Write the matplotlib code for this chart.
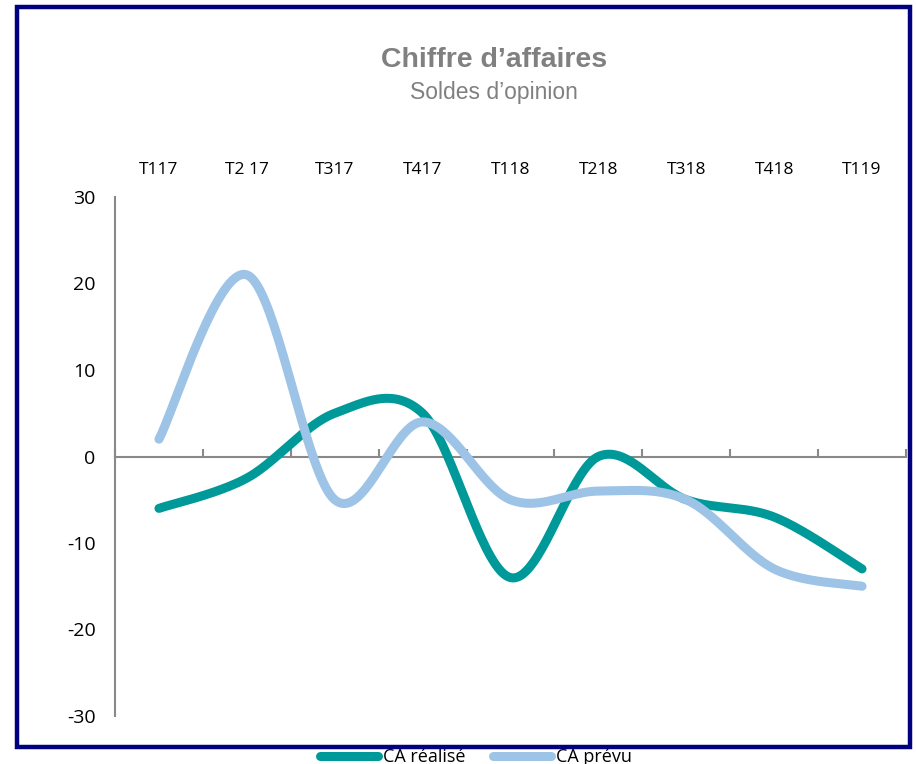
import matplotlib
matplotlib.use("Agg")
import matplotlib.pyplot as plt
from matplotlib.patches import Rectangle
import numpy as np

plt.rcParams["axes.unicode_minus"] = False

categories = ["T117", "T2 17", "T317", "T417", "T118", "T218", "T318", "T418", "T119"]
ca_realise = [-6, -2.5, 5, 5, -14, 0, -5, -7, -13]
ca_prevu = [2, 21, -5, 4, -5, -4, -5, -13, -15]


def smooth(y, n=40):
    # Excel-style smoothed line (Catmull-Rom via cubic Bezier)
    y = np.asarray(y, dtype=float)
    x = np.arange(len(y), dtype=float)
    pts = np.column_stack([x, y])
    out = []
    for i in range(len(pts) - 1):
        p0 = pts[max(i - 1, 0)]
        p1 = pts[i]
        p2 = pts[i + 1]
        p3 = pts[min(i + 2, len(pts) - 1)]
        c1 = p1 + (p2 - p0) / 6
        c2 = p2 - (p3 - p1) / 6
        t = np.linspace(0, 1, n)[:, None]
        seg = ((1 - t) ** 3) * p1 + 3 * ((1 - t) ** 2) * t * c1 + 3 * (1 - t) * t ** 2 * c2 + t ** 3 * p2
        out.append(seg if i == 0 else seg[1:])
    seg = np.vstack(out)
    return seg[:, 0], seg[:, 1]


W, H = 916, 764
fig = plt.figure(figsize=(W / 100, H / 100), dpi=100)
ax = fig.add_axes([115 / W, (H - 716) / H, (906 - 115) / W, (716 - 197) / H])

teal = "#009999"
light = "#9DC3E6"
grey = "#898989"

xs, ys = smooth(ca_realise)
ax.plot(xs, ys, color=teal, lw=6.5, solid_capstyle="round", label="CA réalisé", zorder=3)
xs, ys = smooth(ca_prevu)
ax.plot(xs, ys, color=light, lw=6.5, solid_capstyle="round", label="CA prévu", zorder=3)

ax.set_xlim(-0.5, len(categories) - 0.5)
ax.set_ylim(-30, 30)
ax.set_yticks([-30, -20, -10, 0, 10, 20, 30])
ax.tick_params(axis="y", length=0, labelsize=14, pad=14)
for lab in ax.get_yticklabels():
    lab.set_fontfamily("Open Sans")

for s in ["top", "right"]:
    ax.spines[s].set_visible(False)
ax.spines["left"].set_color(grey)
ax.spines["left"].set_linewidth(1.5)
ax.spines["bottom"].set_position(("data", 0))
ax.spines["bottom"].set_color(grey)
ax.spines["bottom"].set_linewidth(1.5)

# tick marks between categories, pointing up from the zero line
ax.set_xticks(np.arange(len(categories) + 1) - 0.5)
ax.set_xticklabels([])
ax.tick_params(axis="x", direction="in", length=6, width=1.5, color=grey)

top = ax.secondary_xaxis("top")
top.set_xticks(np.arange(len(categories)))
top.set_xticklabels(categories, fontsize=12.5, fontfamily="Open Sans")
top.tick_params(axis="x", length=0, pad=14)
top.spines["top"].set_visible(False)

fig.text(494 / W, 1 - 60 / H, "Chiffre d\u2019affaires", ha="center", va="center",
         fontsize=20.5, fontweight="bold", color="#808080", fontfamily="Liberation Sans")
fig.text(494 / W, 1 - 92 / H, "Soldes d\u2019opinion", ha="center", va="center",
         fontsize=16.5, color="#808080", fontfamily="Liberation Sans")

leg = fig.legend(loc="center", bbox_to_anchor=(476 / W, 1 - 757 / H), ncol=2, frameon=False,
                 prop={"family": "Open Sans", "size": 13}, handlelength=3.2, columnspacing=1.5,
                 handletextpad=0.3)

fig.patches.append(Rectangle((17 / W, 1 - 747 / H), (910 - 17) / W, (747 - 7) / H,
                             transform=fig.transFigure, fill=False, edgecolor="#000080",
                             linewidth=3.2, zorder=10))

fig.savefig("out.png", dpi=100)
